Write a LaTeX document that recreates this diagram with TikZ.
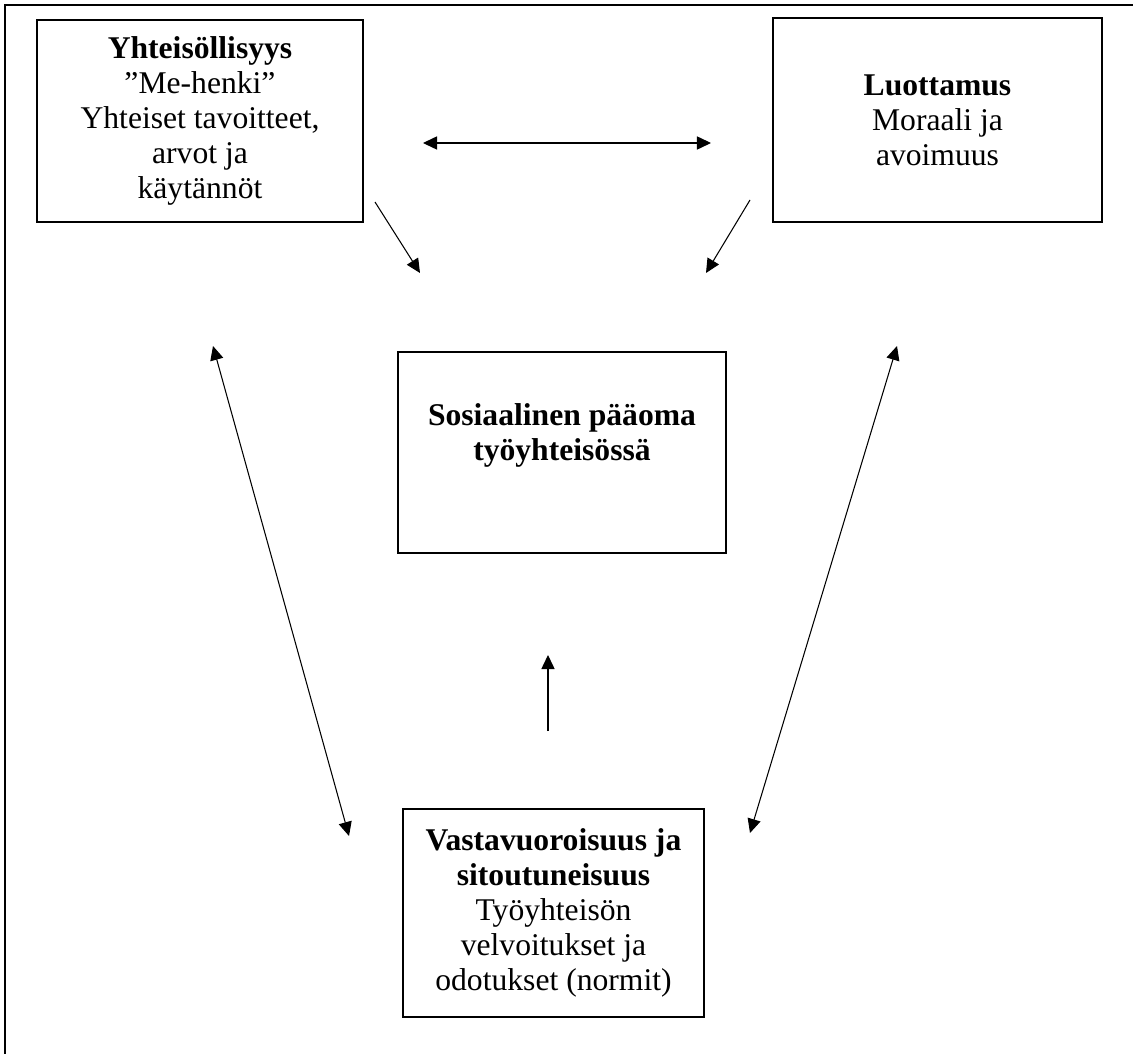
\documentclass[tikz,border=0pt]{standalone}
\usepackage{fontspec}
\setmainfont{Liberation Serif}
\usetikzlibrary{arrows.meta}
\tikzset{
	laatikko/.style={draw, line width=1.1pt, align=center, font=\fontsize{18}{20}\selectfont, inner sep=0pt},
	nuoli/.style={line width=.6pt, -{Triangle[length=8pt,width=7.5pt]}},
	kaksnuoli/.style={line width=.6pt, {Triangle[length=8pt,width=7.5pt]}-{Triangle[length=8pt,width=7.5pt]}}
}
\begin{document}
\begin{tikzpicture}[x=.02cm, y=-.02cm]
		\useasboundingbox (0,0) rectangle (1133,1054);
		% kehys
		\draw [line width=1.1pt] (5,1054) -- (5,5) -- (1133,5);
		% laatikot
		\node [laatikko, minimum width=6.52cm, minimum height=4.04cm] (yht) at (200,121)
			{\textbf{Yhteisöllisyys}\\”Me-henki”\\Yhteiset tavoitteet,\\arvot ja\\käytännöt};
		\node [laatikko, minimum width=6.58cm, minimum height=4.08cm] (luot) at (937.5,120)
			{\textbf{Luottamus}\\Moraali ja\\avoimuus};
		\node [laatikko, minimum width=6.56cm, minimum height=4.02cm, text depth=23pt] (paaoma) at (562,452.5)
			{\textbf{Sosiaalinen pääoma}\\\textbf{työyhteisössä}};
		\node [laatikko, minimum width=6.02cm, minimum height=4.16cm] (vast) at (553.5,913)
			{\textbf{Vastavuoroisuus ja}\\\textbf{sitoutuneisuus}\\Työyhteisön\\velvoitukset ja\\odotukset (normit)};
		% nuolten päät
		\coordinate (a1) at (423,143);
		\coordinate (a2) at (711,143);
		\coordinate (b1) at (375,202);
		\coordinate (b2) at (420,273);
		\coordinate (c1) at (750,200);
		\coordinate (c2) at (706,273);
		\coordinate (d1) at (213,346);
		\coordinate (d2) at (349,836);
		\coordinate (e1) at (897,346);
		\coordinate (e2) at (750,833);
		\coordinate (f1) at (548,731);
		\coordinate (f2) at (548,655);
		\draw [kaksnuoli] (a1) -- (a2);
		\draw [nuoli] (b1) -- (b2);
		\draw [nuoli] (c1) -- (c2);
		\draw [kaksnuoli] (d1) -- (d2);
		\draw [kaksnuoli] (e1) -- (e2);
		\draw [nuoli] (f1) -- (f2);
\end{tikzpicture}
\end{document}
